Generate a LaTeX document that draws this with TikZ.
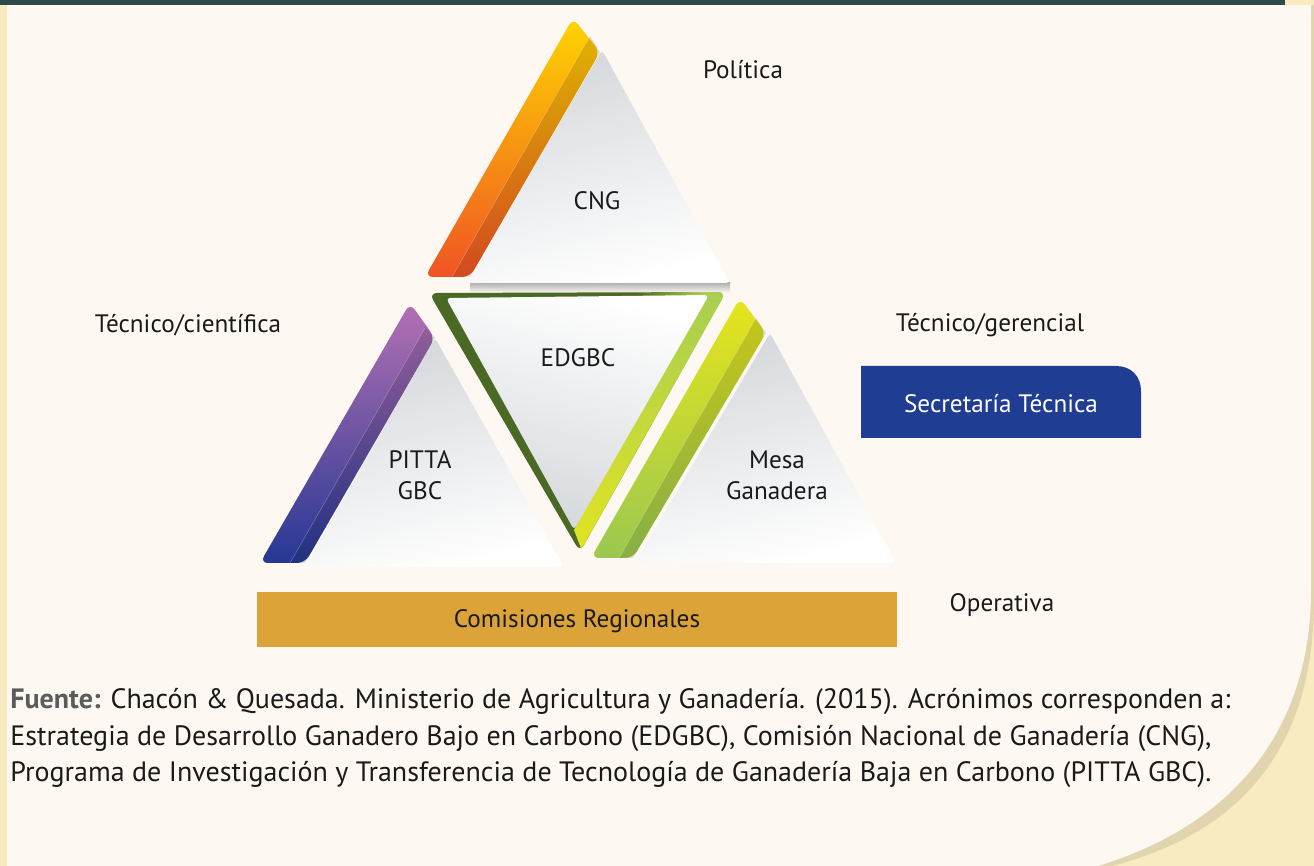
\documentclass[tikz,border=0pt]{standalone}
\usepackage{fontspec}
\setmainfont{PT Sans}
\usepackage{tikz}
\usepackage{xcolor}
\definecolor{cream}{RGB}{253,249,242}
\definecolor{paleyellow}{RGB}{249,235,192}
\definecolor{edgeshadow}{RGB}{224,213,174}
\definecolor{topbar}{RGB}{47,74,74}
\definecolor{gold}{RGB}{219,163,56}
\definecolor{navy}{RGB}{31,61,147}
\definecolor{ink}{RGB}{26,26,26}
\definecolor{fuente}{RGB}{90,92,94}
\definecolor{facegray}{RGB}{212,215,219}
\definecolor{cngtop}{RGB}{255,212,0}
\definecolor{cngmid}{RGB}{246,140,30}
\definecolor{cngbot}{RGB}{240,84,36}
\definecolor{pittatop}{RGB}{180,112,178}
\definecolor{pittabot}{RGB}{38,56,148}
\definecolor{mesatop}{RGB}{230,228,28}
\definecolor{mesabot}{RGB}{155,200,80}
\definecolor{olive}{RGB}{74,105,36}
\definecolor{lime}{RGB}{168,206,82}
\definecolor{frameyellow}{RGB}{226,228,34}
\usetikzlibrary{positioning, calc}
\pgfdeclarehorizontalshading{framegreen}{100bp}{color(0bp)=(olive); color(60bp)=(olive); color(71bp)=(lime); color(100bp)=(lime)}

\tikzstyle{Label} = [text=ink, font=\fontsize{12.6}{15.5}\selectfont, inner sep=0pt, align=center]
\tikzstyle{Band} = [rounded corners=4pt]
\tikzstyle{Strip} = [fill=black, opacity=0.12]
\tikzstyle{Face} = [top color=facegray, bottom color=white, shading angle=15, rounded corners=2pt]
\tikzstyle{Caption} = [text=ink, font=\fontsize{14}{18}\selectfont, inner sep=0pt, anchor=base west]

\begin{document}
\begin{tikzpicture}[x=0.5pt, y=-0.5pt]
    \useasboundingbox (0,0) rectangle (1314,866);
    % page
    \fill[paleyellow] (0,0) rectangle (1314,866);
    \fill[edgeshadow] (7,5) -- (1314,5) -- (1314,600) .. controls (1314,715) and (1270,825) .. (1112,866) -- (7,866) -- cycle;
    \fill[cream] (7,5) -- (1311,5) -- (1311,590) .. controls (1311,700) and (1262,815) .. (1098,866) -- (7,866) -- cycle;
    \fill[topbar] (0,0) rectangle (1285,5);

    % CNG
    \shade[Band, top color=cngtop, middle color=cngmid, bottom color=cngbot] (425,277) -- (573,18) -- (600,52) -- (470,277) -- cycle;
    \fill[Strip] (452,277) -- (590,36) -- (600,52) -- (470,277) -- cycle;
    \draw[white, opacity=0.35, very thin] (452,277) -- (590,36);
    \shade[top color=black!30, bottom color=cream] (470,283) rectangle (730,293);
    \shade[Face] (602,50) -- (730,283) -- (467,283) -- cycle;

    % EDGBC
    \shade[shading=framegreen, rounded corners=4pt] (429,293) -- (726,292) -- (580,552) -- cycle;
    \begin{scope}
        \clip[rounded corners=4pt] (429,293) -- (726,292) -- (580,552) -- cycle;
        \shade[top color=lime, bottom color=frameyellow] (704,293) -- (730,290) -- (584,556) -- (574,530) -- cycle;
    \end{scope}
    \shade[top color=white, bottom color=facegray, shading angle=-15, rounded corners=2pt] (446,298) -- (709,295) -- (574,530) -- cycle;

    % PITTA
    \shade[Band, top color=pittatop, bottom color=pittabot] (260,563) -- (410,303) -- (435,338) -- (305,563) -- cycle;
    \fill[Strip] (290,563) -- (425,328) -- (435,338) -- (305,563) -- cycle;
    \draw[white, opacity=0.35, very thin] (290,563) -- (425,328);
    \shade[Face] (435,338) -- (564,567) -- (305,567) -- cycle;

    % Mesa
    \shade[Band, top color=mesatop, bottom color=mesabot] (591,558) -- (740,298) -- (766,333) -- (633,558) -- cycle;
    \fill[Strip] (619,558) -- (756,318) -- (766,333) -- (633,558) -- cycle;
    \draw[white, opacity=0.35, very thin] (619,558) -- (756,318);
    \shade[Face] (770,333) -- (896,563) -- (635,563) -- cycle;

    % texts
    \node[Label] (1) at (597,201) {CNG};
    \node[Label] (2) at (578,358) {EDGBC};
    \node[Label] (3) at (420,475) {PITTA\\GBC};
    \node[Label] (4) at (777,475) {Mesa\\Ganadera};
    \node[Label] (5) at (743,70) {Política};
    \node[Label] (6) at (188,325) {Técnico/científica};
    \node[Label] (7) at (990,325) {Técnico/gerencial};
    \node[Label] (8) at (1002,605) {Operativa};

    \fill[gold] (257,592) rectangle (897,647);
    \node[Label] (9) at (577,621) {Comisiones Regionales};
    \fill[navy] (861,438) -- (861,366) -- (1116,366) .. controls (1131,366) and (1141,376) .. (1141,391) -- (1141,438) -- cycle;
    \node[Label, text=white] (10) at (1001,404) {Secretaría Técnica};

    \node[Caption] (11) at (10,708) {\textcolor{fuente}{\textbf{Fuente:}} Chacón \& Quesada. Ministerio de Agricultura y Ganadería. (2015). Acrónimos corresponden a:};
    \node[Caption] (12) at (10,745) {Estrategia de Desarrollo Ganadero Bajo en Carbono (EDGBC), Comisión Nacional de Ganadería (CNG),};
    \node[Caption] (13) at (10,781) {Programa de Investigación y Transferencia de Tecnología de Ganadería Baja en Carbono (PITTA GBC).};
\end{tikzpicture}
\end{document}
